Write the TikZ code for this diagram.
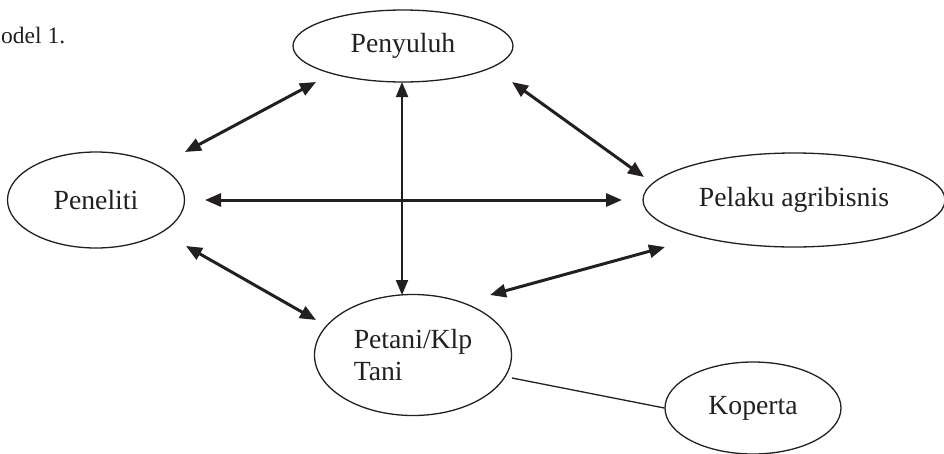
\documentclass[tikz,border=0pt]{standalone}
\usepackage{fontspec}
\setmainfont{Liberation Serif}
\usetikzlibrary{shapes.geometric,arrows.meta}
\definecolor{ink}{RGB}{35,31,32}
\begin{document}
\begin{tikzpicture}[x=1pt,y=-1pt,
  oval/.style={ellipse,draw=ink,text=ink,line width=1.3pt,inner sep=0pt,
    font=\fontsize{27.7}{32}\selectfont},
  biarrow/.style={{Triangle[length=16pt,width=13pt]}-{Triangle[length=16pt,width=13pt]},
    draw=ink,line width=3pt},
  thinarrow/.style={{Triangle[length=15pt,width=12pt]}-{Triangle[length=15pt,width=12pt]},
    draw=ink,line width=2pt},
  link/.style={draw=ink,line width=1.3pt},
  caption/.style={text=ink,inner sep=0pt,font=\fontsize{23.5}{28}\selectfont}
]
\useasboundingbox (0,0) rectangle (944,453);
\node[caption,anchor=base west] (cap) at (1,43) {odel 1.};

\node[oval,minimum width=220pt,minimum height=72pt] (penyuluh) at (403,46) {Penyuluh};
\node[oval,minimum width=177pt,minimum height=96pt] (peneliti) at (96,200) {Peneliti};
\node[oval,minimum width=302pt,minimum height=94pt] (pelaku) at (794,200) {Pelaku agribisnis};
\node[oval,minimum width=197pt,minimum height=121pt,align=left] (petani) at (413,355) {Petani/Klp\\Tani};
\node[oval,minimum width=176pt,minimum height=92pt] (koperta) at (753,408) {Koperta};

% arrow end points (gaps left before the ovals)
\coordinate (a1s) at (185,152); \coordinate (a1e) at (316,82);
\coordinate (a2s) at (512,82);  \coordinate (a2e) at (644,177);
\coordinate (a3s) at (205,200); \coordinate (a3e) at (622,200);
\coordinate (a4s) at (402,82);  \coordinate (a4e) at (402,295);
\coordinate (a5s) at (186,246); \coordinate (a5e) at (316,320);
\coordinate (a6s) at (665,247); \coordinate (a6e) at (490,295);
\coordinate (ks) at (512,378);

\draw[biarrow] (a1s) -- (a1e);
\draw[biarrow] (a2s) -- (a2e);
\draw[biarrow] (a3s) -- (a3e);
\draw[thinarrow] (a4s) -- (a4e);
\draw[biarrow] (a5s) -- (a5e);
\draw[biarrow] (a6s) -- (a6e);
\draw[link] (ks) -- (koperta.west);
\end{tikzpicture}
\end{document}
